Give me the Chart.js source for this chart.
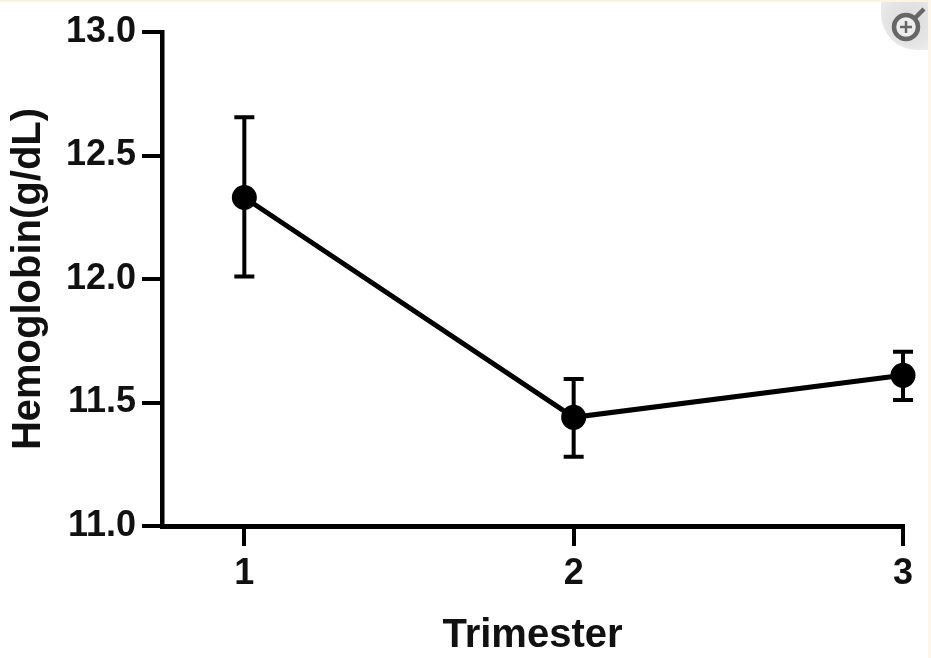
<!DOCTYPE html>
<html>
<head>
<meta charset="utf-8">
<style>
  html, body { margin: 0; padding: 0; background: #fff; overflow: hidden; }
  #marco { position: relative; width: 931px; height: 658px; }
  #marco canvas { position: absolute; left: 0; top: 0; }
  /* franja crema de arriba y de la derecha */
  #franjaTop { position: absolute; left: 0; top: 0; width: 931px; height: 2px; background: #fdf3e4; }
  #franjaDer { position: absolute; right: 0; top: 0; width: 3px; height: 658px; background: #fdf6ea; }
  #lupa { position: absolute; left: 881px; top: 2px; width: 47px; height: 48px; background: radial-gradient(circle at 60% 40%, #dcdcdc 0, #e4e4e4 55%, #f1f1f1 100%); border-bottom-left-radius: 36px; }
</style>
</head>
<body>
<div id="marco">
  <canvas id="myChart" width="931" height="658"></canvas>
  <div id="franjaTop"></div>
  <div id="franjaDer"></div>
  <div id="lupa">
    <svg width="47" height="48" viewBox="0 0 47 48">
      <circle cx="25" cy="25" r="12" fill="#ececec" stroke="#666" stroke-width="4.5"/>
      <path d="M19 25h12M25 19v12" stroke="#666" stroke-width="2.5"/>
      <path d="M34 16l9-9" stroke="#666" stroke-width="4.5"/>
    </svg>
  </div>
</div>
<script src="https://cdn.jsdelivr.net/npm/chart.js@4/dist/chart.umd.js"></script>
<script>
const trimestres = [1, 2, 3];
const hemoglobina = [12.33, 11.44, 11.61];
const errorArriba = [12.655, 11.595, 11.705];
const errorAbajo = [12.01, 11.28, 11.51];
const ticksY = [11, 11.5, 12, 12.5, 13];

const fuente = "'Liberation Sans', Arial, sans-serif";

//pinta las barras de error con las escalas del propio chart
const barrasError = {
  id: 'barrasError',
  beforeDatasetsDraw(chart) {
    const ctx = chart.ctx;
    const x = chart.scales.x;
    const y = chart.scales.y;
    ctx.save();
    ctx.strokeStyle = '#000';
    ctx.lineWidth = 4;
    trimestres.forEach((t, i) => {
      const px = x.getPixelForValue(t);
      const arriba = y.getPixelForValue(errorArriba[i]);
      const abajo = y.getPixelForValue(errorAbajo[i]);
      ctx.beginPath();
      ctx.moveTo(px, arriba);
      ctx.lineTo(px, abajo);
      ctx.moveTo(px - 10, arriba);
      ctx.lineTo(px + 10, arriba);
      ctx.moveTo(px - 10, abajo);
      ctx.lineTo(px + 10, abajo);
      ctx.stroke();
    });
    ctx.restore();
  }
};

const data = {
  datasets: [{
    data: trimestres.map((t, i) => ({ x: t, y: hemoglobina[i] })),
    borderColor: '#000',
    backgroundColor: '#000',
    borderWidth: 5,
    pointRadius: 10,
    pointHoverRadius: 10,
    tension: 0,
    clip: false
  }]
};

const config = {
  type: 'line',
  data: data,
  plugins: [barrasError],
  options: {
    responsive: false,
    animation: false,
    layout: { padding: { top: 32, right: 28, left: 0, bottom: 0 } },
    plugins: { legend: { display: false }, tooltip: { enabled: false } },
    scales: {
      x: {
        type: 'linear',
        min: 0.75,
        max: 3,
        afterBuildTicks: axis => { axis.ticks = trimestres.map(t => ({ value: t })); },
        afterFit: axis => { axis.height = 132; },
        border: { color: '#000', width: 5 },
        grid: { drawOnChartArea: false, color: '#000', lineWidth: 4, tickLength: 20 },
        ticks: {
          color: '#111',
          padding: 6,
          maxRotation: 0,
          font: { family: fuente, size: 36, weight: 'bold' },
          callback: v => String(v)
        },
        title: {
          display: true,
          text: 'Trimester',
          color: '#111',
          padding: { top: 0, bottom: -2 },
          font: { family: fuente, size: 40, weight: 'bold' }
        }
      },
      y: {
        min: 11,
        max: 13,
        afterBuildTicks: axis => { axis.ticks = ticksY.map(v => ({ value: v })); },
        afterFit: axis => { axis.width = 162; },
        border: { color: '#000', width: 4.5 },
        grid: { drawOnChartArea: false, color: '#000', lineWidth: 4, tickLength: 20 },
        ticks: {
          color: '#111',
          padding: 6,
          font: { family: fuente, size: 36, weight: 'bold' },
          callback: v => v.toFixed(1)
        },
        title: {
          display: true,
          text: 'Hemoglobin(g/dL)',
          color: '#111',
          padding: { top: 5, bottom: 0 },
          font: { family: fuente, size: 40, weight: 'bold' }
        }
      }
    }
  }
};

var myChart = new Chart(document.getElementById('myChart'), config);
</script>
</body>
</html>
